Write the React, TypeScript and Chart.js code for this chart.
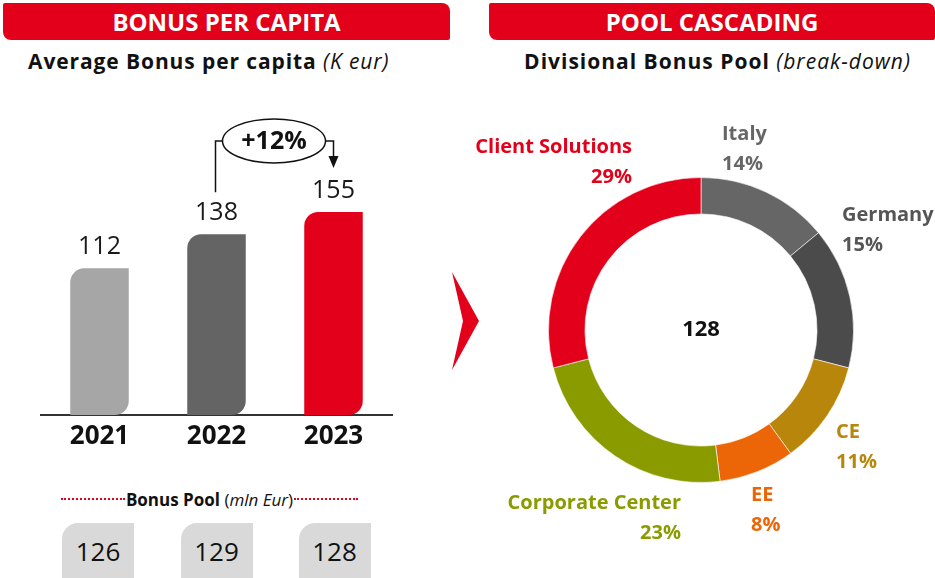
import React, { useEffect, useRef } from "react";
import { Chart, registerables } from "chart.js";
Chart.register(...registerables);

const years = ["2021", "2022", "2023"];
const bonusPerCapita = [112, 138, 155];
const barColors = ["#a6a6a6", "#646464", "#e2001a"];
const bonusPool = [126, 129, 128];

const divisions = ["Italy", "Germany", "CE", "EE", "Corporate Center", "Client Solutions"];
const divisionShares = [14, 15, 11, 8, 23, 29];
const divisionColors = ["#666666", "#4b4b4b", "#b8860b", "#ec6608", "#8a9b00", "#e2001a"];
const divisionTextColors = ["#666666", "#555555", "#b8860b", "#ec6608", "#8a9b00", "#e2001a"];
const poolTotal = 128;

const FONT = "'Open Sans', sans-serif";
const RED = "#e2001a";

// layout of the division labels (text anchors), not data
const labelLayout = [
  { x: 722, y: 118, align: "left" },
  { x: 842, y: 199, align: "left" },
  { x: 836, y: 416, align: "left" },
  { x: 751, y: 479, align: "left" },
  { x: 681, y: 487, align: "right" },
  { x: 632, y: 131, align: "right" },
];

function BarChart() {
  const ref = useRef<HTMLCanvasElement>(null);
  useEffect(() => {
    const growth = Math.round((bonusPerCapita[2] / bonusPerCapita[1] - 1) * 100);
    const annot = {
      id: "annot",
      afterDatasetsDraw(chart: any) {
        const ctx = chart.ctx;
        const meta = chart.getDatasetMeta(0);
        ctx.save();
        ctx.fillStyle = "#1a1a1a";
        ctx.font = `25px ${FONT}`;
        ctx.textAlign = "center";
        ctx.textBaseline = "middle";
        meta.data.forEach((bar: any, i: number) => {
          ctx.fillText(String(bonusPerCapita[i]), bar.x, bar.y - 21);
        });
        const b1 = meta.data[1];
        const b2 = meta.data[2];
        const yTop = b2.y - 71;
        const cx = (b1.x + b2.x) / 2 - 1;
        const rx = 51.5;
        const ry = 22;
        ctx.strokeStyle = "#111";
        ctx.lineWidth = 1.5;
        ctx.beginPath();
        ctx.moveTo(b1.x - 1, b1.y - 42);
        ctx.lineTo(b1.x - 1, yTop);
        ctx.lineTo(cx - rx, yTop);
        ctx.stroke();
        ctx.beginPath();
        ctx.ellipse(cx, yTop, rx, ry, 0, 0, Math.PI * 2);
        ctx.stroke();
        ctx.beginPath();
        ctx.moveTo(cx + rx, yTop);
        ctx.lineTo(b2.x, yTop);
        ctx.lineTo(b2.x, b2.y - 55);
        ctx.stroke();
        ctx.fillStyle = "#111";
        ctx.beginPath();
        ctx.moveTo(b2.x - 5, b2.y - 56);
        ctx.lineTo(b2.x + 5, b2.y - 56);
        ctx.lineTo(b2.x, b2.y - 44);
        ctx.closePath();
        ctx.fill();
        ctx.font = `bold 25px ${FONT}`;
        ctx.fillText(`+${growth}%`, cx, yTop + 1);
        ctx.restore();
      },
    };
    const chart = new Chart(ref.current!, {
      type: "bar",
      data: {
        labels: years,
        datasets: [
          {
            data: bonusPerCapita,
            backgroundColor: barColors,
            borderSkipped: false,
            borderRadius: { topLeft: 14, topRight: 0, bottomLeft: 0, bottomRight: 14 },
            categoryPercentage: 1,
            barPercentage: 0.5,
          },
        ],
      },
      options: {
        responsive: false,
        animation: false,
        events: [],
        layout: { padding: { left: 41, right: 38, top: 53, bottom: 0 } },
        plugins: { legend: { display: false }, tooltip: { enabled: false } },
        scales: {
          y: { display: false, min: 0, max: 200 },
          x: {
            grid: { display: false, drawTicks: false },
            border: { display: true, color: "#333", width: 2 },
            ticks: { color: "#111", font: { family: FONT, size: 26, weight: "bold" }, padding: 6 },
            afterFit: (scale: any) => {
              scale.height = 45;
            },
          },
        },
      },
      plugins: [annot],
    });
    return () => chart.destroy();
  }, []);
  return <canvas ref={ref} width={430} height={360} style={{ position: "absolute", left: 0, top: 100 }} />;
}

function Donut() {
  const ref = useRef<HTMLCanvasElement>(null);
  useEffect(() => {
    const center = {
      id: "center",
      afterDraw(chart: any) {
        const arc = chart.getDatasetMeta(0).data[0];
        const ctx = chart.ctx;
        ctx.save();
        ctx.fillStyle = "#111";
        ctx.font = `bold 22px ${FONT}`;
        ctx.textAlign = "center";
        ctx.textBaseline = "middle";
        ctx.fillText(String(poolTotal), arc.x, arc.y);
        ctx.restore();
      },
    };
    const chart = new Chart(ref.current!, {
      type: "doughnut",
      data: {
        labels: divisions,
        datasets: [
          {
            data: divisionShares,
            backgroundColor: divisionColors,
            borderColor: "#ffffff",
            borderWidth: 0.6,
            hoverOffset: 0,
          },
        ],
      },
      options: {
        responsive: false,
        animation: false,
        events: [],
        radius: 152.5,
        cutout: 121.5,
        plugins: { legend: { display: false }, tooltip: { enabled: false } },
      },
      plugins: [center],
    });
    return () => chart.destroy();
  }, []);
  return <canvas ref={ref} width={320} height={320} style={{ position: "absolute", left: 541, top: 170 }} />;
}

const banner = (left: number, width: number, text: string) => (
  <div
    style={{
      position: "absolute",
      left,
      top: 3,
      width,
      height: 37,
      background: RED,
      borderRadius: "2px 8px 2px 8px",
      color: "#fff",
      fontFamily: FONT,
      fontWeight: 700,
      fontSize: 24,
      lineHeight: "37px",
      textAlign: "center",
    }}
  >
    {text}
  </div>
);

export default function App() {
  const poolCenters = [98, 216.5, 334.5];
  return (
    <div
      style={{
        position: "absolute",
        left: 0,
        top: 0,
        width: 935,
        height: 578,
        overflow: "hidden",
        background: "#fff",
        fontFamily: FONT,
      }}
    >
      {banner(3, 447, "BONUS PER CAPITA")}
      {banner(489, 446, "POOL CASCADING")}
      <div style={{ position: "absolute", left: 28, top: 46, whiteSpace: "nowrap", fontSize: 21, letterSpacing: 0.9, fontWeight: 700, color: "#111", lineHeight: "30px" }}>
        Average Bonus per capita <span style={{ fontWeight: 400, fontStyle: "italic" }}>(K eur)</span>
      </div>
      <div style={{ position: "absolute", left: 500, width: 435, top: 46, textAlign: "center", whiteSpace: "nowrap", fontSize: 21, letterSpacing: 1, fontWeight: 700, color: "#111", lineHeight: "30px" }}>
        Divisional Bonus Pool <span style={{ fontWeight: 400, fontStyle: "italic" }}>(break-down)</span>
      </div>

      <BarChart />

      <div style={{ position: "absolute", left: 61, width: 297, top: 488, height: 22, display: "flex", alignItems: "center" }}>
        <div style={{ flex: 1, borderTop: `2px dotted ${RED}` }} />
        <div style={{ fontSize: 17, color: "#111", whiteSpace: "nowrap", padding: "0 1px" }}>
          <b>Bonus Pool</b> (<i>mln Eur</i>)
        </div>
        <div style={{ flex: 1, borderTop: `2px dotted ${RED}` }} />
      </div>
      {bonusPool.map((v, i) => (
        <div
          key={i}
          style={{
            position: "absolute",
            left: poolCenters[i] - 36,
            top: 523,
            width: 72,
            height: 70,
            background: "#d9d9d9",
            borderRadius: "16px 0 16px 0",
            color: "#111",
            fontSize: 26,
            textAlign: "center",
            lineHeight: "56px",
          }}
        >
          {v}
        </div>
      ))}

      <svg style={{ position: "absolute", left: 0, top: 0 }} width={935} height={578}>
        <polygon points="452,272 479,321 452,370 463,321" fill={RED} />
      </svg>

      <Donut />

      {divisions.map((name, i) => {
        const l = labelLayout[i];
        const style: any = {
          position: "absolute",
          top: l.y,
          color: divisionTextColors[i],
          fontWeight: 700,
          fontSize: 20,
          lineHeight: "30px",
          textAlign: l.align,
          whiteSpace: "nowrap",
        };
        if (l.align === "right") style.right = 935 - l.x;
        else style.left = l.x;
        return (
          <div key={name} style={style}>
            {name}
            <br />
            {divisionShares[i]}%
          </div>
        );
      })}
    </div>
  );
}
